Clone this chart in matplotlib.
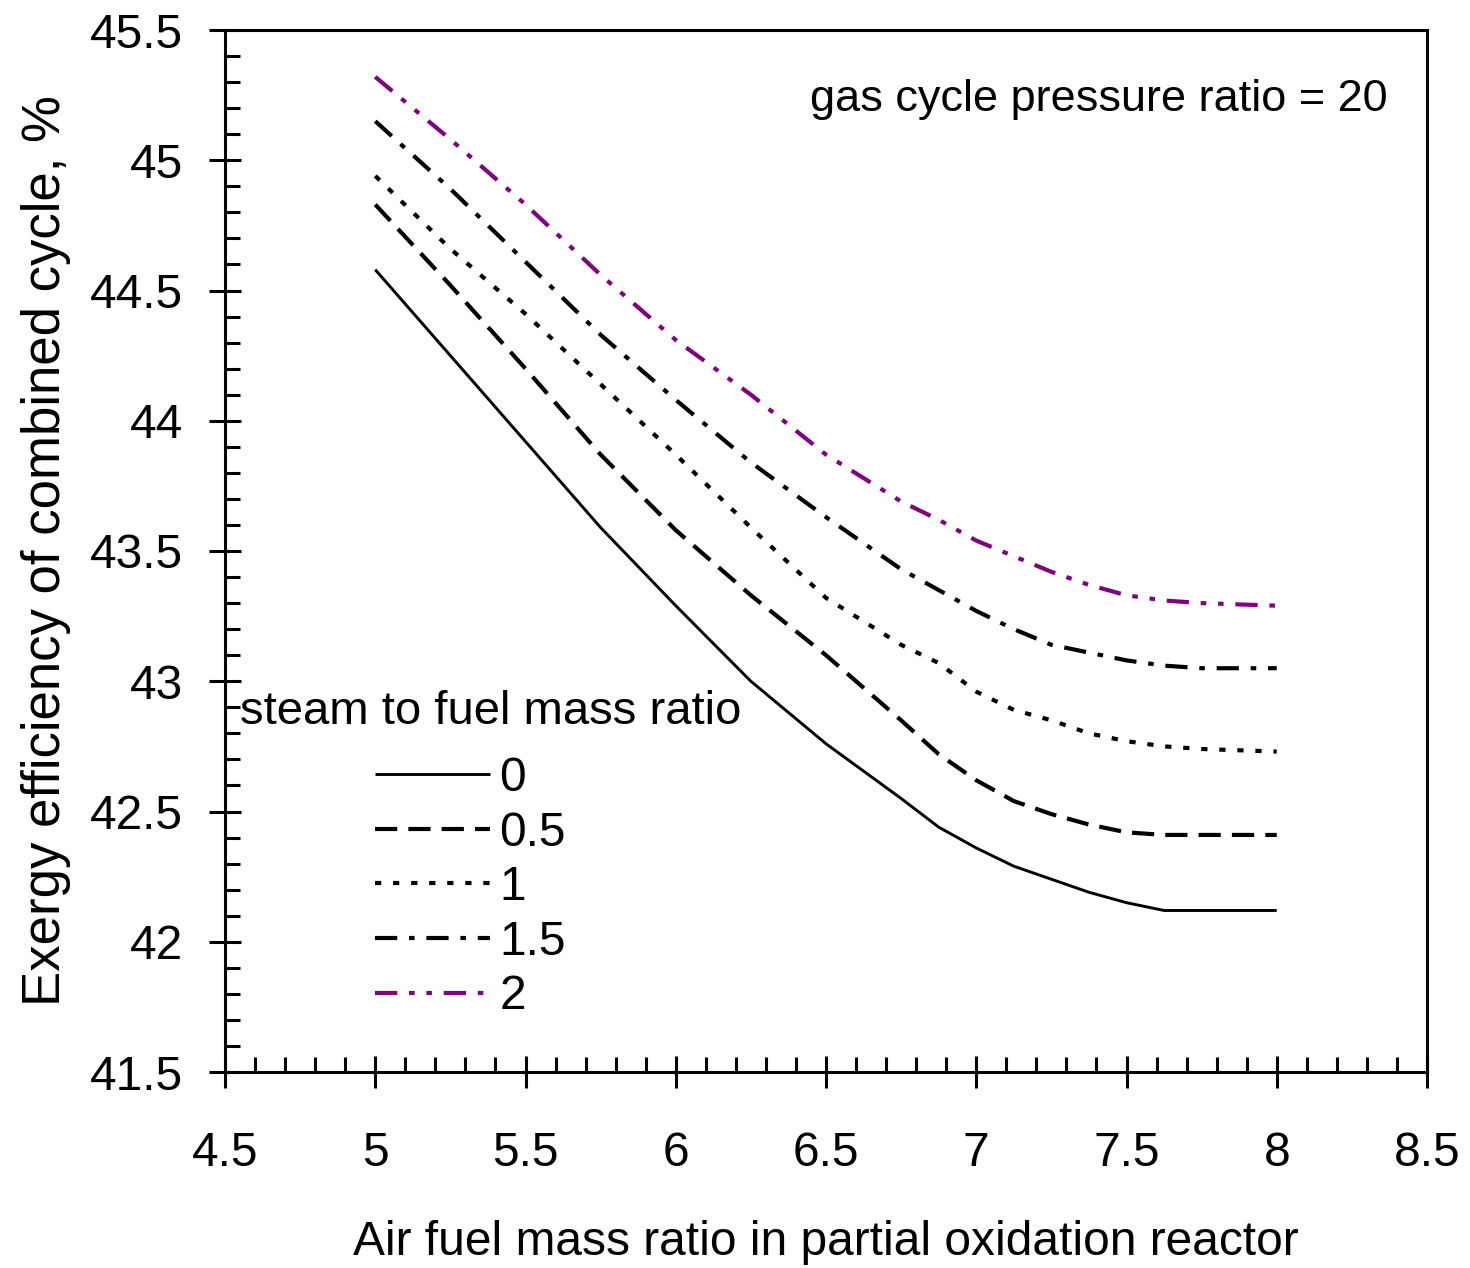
import numpy as np
import matplotlib
matplotlib.use("Agg")
import matplotlib.pyplot as plt
from matplotlib.ticker import MultipleLocator, FixedLocator, FixedFormatter

plt.rcParams["font.family"] = ["Liberation Sans", "DejaVu Sans"]
plt.rcParams["lines.scale_dashes"] = False

# air fuel mass ratio
air_fuel = [5, 5.25, 5.5, 5.75, 6, 6.25, 6.5, 6.75, 6.875, 7, 7.125, 7.25, 7.375, 7.5, 7.625, 7.75, 8]

# exergy efficiency (%) for each steam to fuel mass ratio
eff_s0 = [44.58, 44.25, 43.92, 43.59, 43.29, 43.00, 42.76, 42.55, 42.44, 42.36, 42.29, 42.24, 42.19, 42.15, 42.12, 42.12, 42.12]
eff_s05 = [44.83, 44.52, 44.20, 43.87, 43.58, 43.33, 43.10, 42.85, 42.72, 42.62, 42.54, 42.49, 42.45, 42.42, 42.41, 42.41, 42.41]
eff_s1 = [44.94, 44.66, 44.41, 44.14, 43.87, 43.59, 43.32, 43.14, 43.07, 42.96, 42.89, 42.85, 42.80, 42.77, 42.75, 42.74, 42.73]
eff_s15 = [45.15, 44.89, 44.61, 44.33, 44.08, 43.84, 43.63, 43.43, 43.35, 43.27, 43.20, 43.14, 43.11, 43.08, 43.06, 43.05, 43.05]
eff_s2 = [45.32, 45.08, 44.83, 44.56, 44.31, 44.10, 43.87, 43.69, 43.62, 43.54, 43.48, 43.42, 43.37, 43.33, 43.31, 43.30, 43.29]

steam_labels = ["0", "0.5", "1", "1.5", "2"]
x_ticks = [4.5, 5, 5.5, 6, 6.5, 7, 7.5, 8, 8.5]
x_ticklabels = ["4.5", "5", "5.5", "6", "6.5", "7", "7.5", "8", "8.5"]
y_ticks = [41.5, 42, 42.5, 43, 43.5, 44, 44.5, 45, 45.5]
y_ticklabels = ["41.5", "42", "42.5", "43", "43.5", "44", "44.5", "45", "45.5"]

W, H = 1470, 1268
fig = plt.figure(figsize=(W / 100, H / 100), dpi=100)
ax = fig.add_axes([225 / W, 1 - 1072 / H, (1427 - 225) / W, (1072 - 30) / H])

styles = [
    dict(color="black", lw=2.1, ls="-"),
    dict(color="black", lw=3.0, ls=(0, (16, 8))),
    dict(color="black", lw=3.0, ls=(0, (4.5, 8.5))),
    dict(color="black", lw=3.0, ls=(0, (16, 8.5, 4, 8.5))),
    dict(color="#800080", lw=3.0, ls=(0, (16, 8.5, 4, 8.5, 4, 8.5))),
]
for ys, lab, st in zip([eff_s0, eff_s05, eff_s1, eff_s15, eff_s2], steam_labels, styles):
    ax.plot(air_fuel, ys, label=lab, dash_capstyle="butt", solid_capstyle="butt", **st)

ax.set_xlim(4.5, 8.5)
ax.set_ylim(41.5, 45.5)
ax.xaxis.set_major_locator(FixedLocator(x_ticks))
ax.xaxis.set_major_formatter(FixedFormatter(x_ticklabels))
ax.yaxis.set_major_locator(FixedLocator(y_ticks))
ax.yaxis.set_major_formatter(FixedFormatter(y_ticklabels))
ax.xaxis.set_minor_locator(MultipleLocator(0.1))
ax.yaxis.set_minor_locator(MultipleLocator(0.1))
ax.tick_params(which="major", direction="inout", length=23, width=2.2, labelsize=34.5)
ax.tick_params(which="minor", direction="in", length=11, width=2.2)
ax.tick_params(axis="x", which="major", pad=31)
ax.tick_params(axis="y", which="major", pad=19)
for s in ax.spines.values():
    s.set_linewidth(2.2)

ax.set_xlabel("Air fuel mass ratio in partial oxidation reactor", fontsize=34.5, labelpad=32)
ax.set_ylabel("Exergy efficiency of combined cycle, %", fontsize=38, labelpad=13)

fig.text(1388 / W, 1 - 100 / H, "gas cycle pressure ratio = 20", fontsize=32.5, ha="right", va="center")
fig.text(240 / W, 1 - 712 / H, "steam to fuel mass ratio", fontsize=34, ha="left", va="center")

ax.legend(loc="upper left", bbox_to_anchor=(375 / W, 1 - 756 / H), bbox_transform=fig.transFigure,
          frameon=False, fontsize=34.5, handlelength=2.4, handletextpad=0.2,
          labelspacing=0.2, borderpad=0, borderaxespad=0)

fig.savefig("out.png", dpi=100)
